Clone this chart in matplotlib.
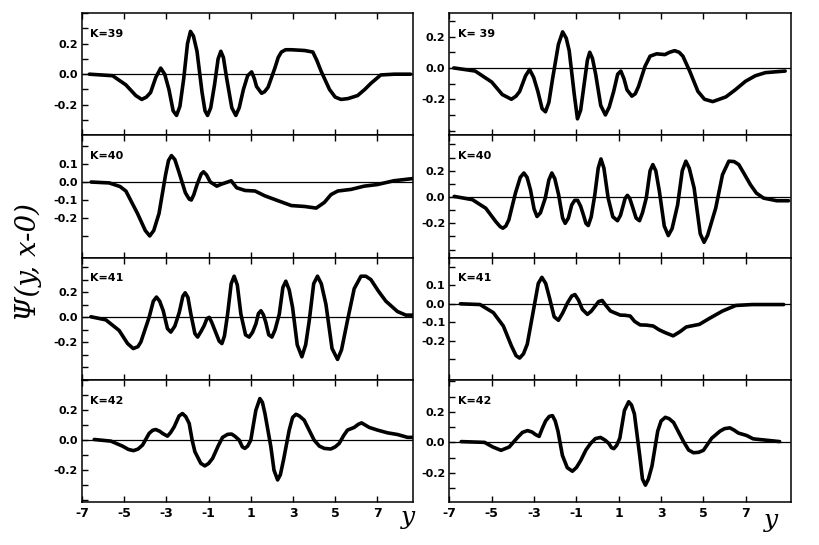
import numpy as np
import matplotlib
matplotlib.use("Agg")
import matplotlib.pyplot as plt
from matplotlib.ticker import FixedLocator

# --- K=39, left
k39a_x = [-6.65, -5.55, -4.92, -4.45, -4.17, -3.95, -3.75, -3.5, -3.27, -3.08, -2.88, -2.68, -2.52, -2.36,
          -2.18, -2.0, -1.86, -1.72, -1.55, -1.31, -1.17, -1.05, -0.9, -0.72, -0.55, -0.42, -0.3, -0.14,
          0.1, 0.29, 0.45, 0.65, 0.85, 1.04, 1.17, 1.27, 1.51, 1.65, 1.82, 2.14, 2.3, 2.45, 2.65, 2.92,
          3.55, 3.94, 4.13, 4.33, 4.73, 5.0, 5.27, 5.6, 6.06, 6.4, 6.69, 7.16, 7.8, 8.57]
k39a_v = [0.0, -0.01, -0.07, -0.14, -0.165, -0.15, -0.12, -0.02, 0.04, 0.0, -0.10, -0.24, -0.27, -0.21,
          -0.03, 0.2, 0.28, 0.25, 0.15, -0.12, -0.24, -0.27, -0.22, -0.07, 0.1, 0.15, 0.11, -0.03,
          -0.22, -0.27, -0.22, -0.10, -0.01, 0.015, -0.03, -0.08, -0.125, -0.115, -0.085, 0.04, 0.11, 0.145, 0.16, 0.16,
          0.155, 0.145, 0.09, 0.02, -0.10, -0.15, -0.165, -0.16, -0.14, -0.1, -0.06, -0.005, 0.0, 0.0]
# --- K=39, right
k39b_x = [-6.79, -5.78, -5.0, -4.5, -4.07, -3.85, -3.68, -3.4, -3.21, -3.02, -2.82, -2.62, -2.46, -2.3,
          -2.12, -1.85, -1.65, -1.48, -1.34, -1.1, -0.95, -0.8, -0.64, -0.48, -0.37, -0.24, -0.09,
          0.15, 0.37, 0.55, 0.76, 0.95, 1.10, 1.25, 1.39, 1.62, 1.78, 1.93, 2.24, 2.48, 2.79, 3.18,
          3.4, 3.64, 3.85, 4.03, 4.35, 4.74, 5.05, 5.44, 6.06, 6.5, 6.99, 7.45, 7.93, 8.86]
k39b_v = [0.0, -0.02, -0.09, -0.17, -0.20, -0.18, -0.15, -0.05, -0.01, -0.06, -0.15, -0.26, -0.28, -0.22,
          -0.065, 0.15, 0.23, 0.19, 0.11, -0.17, -0.325, -0.27, -0.11, 0.05, 0.10, 0.06, -0.04,
          -0.24, -0.30, -0.25, -0.15, -0.04, -0.02, -0.07, -0.14, -0.18, -0.165, -0.12, 0.01, 0.075, 0.09, 0.085,
          0.1, 0.11, 0.1, 0.075, -0.02, -0.15, -0.2, -0.215, -0.185, -0.14, -0.085, -0.05, -0.03, -0.02]
# --- K=40, left
k40a_x = [-6.57, -5.71, -5.2, -4.92, -4.37, -4.0, -3.79, -3.6, -3.35, -3.04, -2.9, -2.76, -2.6, -2.41,
          -2.1, -1.92, -1.82, -1.7, -1.55, -1.35, -1.24, -1.1, -0.92, -0.61, -0.4, -0.22, 0.07, 0.33,
          0.73, 1.2, 1.67, 2.29, 2.92, 3.55, 4.1, 4.49, 4.8, 5.12, 5.75, 6.37, 7.0, 7.78, 8.73]
k40a_v = [0.0, -0.005, -0.025, -0.05, -0.175, -0.27, -0.30, -0.27, -0.175, 0.04, 0.12, 0.147, 0.125, 0.057,
          -0.06, -0.095, -0.10, -0.07, -0.015, 0.045, 0.057, 0.04, 0.0, -0.023, -0.012, -0.005, 0.007, -0.032,
          -0.047, -0.05, -0.077, -0.104, -0.131, -0.136, -0.145, -0.113, -0.07, -0.05, -0.041, -0.023, -0.014, 0.007, 0.02]
# --- K=40, right
k40b_x = [-6.77, -5.91, -5.28, -4.81, -4.6, -4.47, -4.33, -4.19, -3.88, -3.65, -3.48, -3.33, -3.17, -3.0,
          -2.86, -2.7, -2.47, -2.3, -2.16, -2.02, -1.84, -1.65, -1.53, -1.38, -1.22, -1.08, -0.94, -0.8,
          -0.67, -0.55, -0.44, -0.3, -0.13, 0.03, 0.16, 0.3, 0.5, 0.72, 0.94, 1.08, 1.2, 1.3, 1.41,
          1.52, 1.67, 1.82, 1.98, 2.12, 2.3, 2.48, 2.61, 2.75, 2.92, 3.15, 3.34, 3.52, 3.78, 4.0,
          4.17, 4.33, 4.56, 4.85, 5.03, 5.2, 5.58, 5.9, 6.2, 6.45, 6.67, 6.95, 7.22, 7.5, 7.84,
          8.47, 9.02]
k40b_v = [0.005, -0.02, -0.085, -0.186, -0.225, -0.237, -0.22, -0.173, 0.03, 0.15, 0.183, 0.15, 0.056, -0.09,
          -0.148, -0.12, -0.008, 0.13, 0.183, 0.14, 0.018, -0.16, -0.20, -0.16, -0.06, -0.025, -0.025, -0.07,
          -0.135, -0.2, -0.217, -0.15, 0.018, 0.22, 0.29, 0.22, -0.008, -0.15, -0.18, -0.14, -0.07, -0.01, 0.013,
          -0.01, -0.084, -0.16, -0.18, -0.12, -0.008, 0.2, 0.247, 0.2, 0.043, -0.22, -0.293, -0.24, -0.06, 0.2,
          0.273, 0.22, 0.069, -0.28, -0.344, -0.29, -0.084, 0.17, 0.273, 0.27, 0.247, 0.17, 0.094, 0.03, -0.008,
          -0.028, -0.028]
# --- K=41, left
k41a_x = [-6.58, -5.87, -5.24, -4.84, -4.57, -4.35, -4.21, -3.82, -3.62, -3.47, -3.32, -3.15, -2.95, -2.79,
          -2.6, -2.39, -2.22, -2.11, -1.98, -1.84, -1.65, -1.52, -1.35, -1.21, -1.08, -0.97, -0.85, -0.73,
          -0.5, -0.37, -0.25, -0.1, 0.07, 0.21, 0.36, 0.53, 0.75, 0.92, 1.08, 1.24, 1.36, 1.48, 1.6,
          1.71, 1.85, 2.0, 2.15, 2.35, 2.52, 2.66, 2.82, 2.98, 3.2, 3.42, 3.6, 3.77, 3.98, 4.16,
          4.34, 4.56, 4.85, 5.11, 5.3, 5.58, 5.9, 6.22, 6.45, 6.69, 7.05, 7.4, 7.95, 8.35, 8.74]
k41a_v = [0.005, -0.02, -0.105, -0.21, -0.25, -0.235, -0.197, 0.0, 0.13, 0.163, 0.13, 0.053, -0.09, -0.118,
          -0.07, 0.04, 0.17, 0.197, 0.16, 0.026, -0.13, -0.158, -0.11, -0.066, -0.01, 0.0, -0.04, -0.092,
          -0.19, -0.21, -0.15, 0.026, 0.27, 0.33, 0.26, 0.026, -0.14, -0.158, -0.12, -0.053, 0.03, 0.053, 0.02,
          -0.04, -0.14, -0.158, -0.1, 0.026, 0.24, 0.29, 0.22, 0.079, -0.22, -0.316, -0.22, -0.026, 0.27, 0.33,
          0.27, 0.105, -0.25, -0.337, -0.26, -0.026, 0.23, 0.33, 0.33, 0.303, 0.21, 0.13, 0.047, 0.018, 0.018]
# --- K=41, right
k41b_x = [-6.48, -5.55, -4.92, -4.45, -4.07, -3.85, -3.68, -3.5, -3.32, -2.98, -2.8, -2.63, -2.45, -2.27,
          -2.05, -1.85, -1.65, -1.42, -1.22, -1.07, -0.9, -0.72, -0.48, -0.3, -0.17, 0.05, 0.22, 0.4,
          0.61, 1.07, 1.3, 1.54, 1.75, 2.01, 2.3, 2.63, 2.9, 3.18, 3.57, 3.9, 4.19, 4.5, 4.81,
          5.28, 5.9, 6.53, 7.31, 8.79]
k41b_v = [0.0, -0.004, -0.048, -0.12, -0.227, -0.28, -0.293, -0.27, -0.218, -0.004, 0.11, 0.143, 0.11, 0.032,
          -0.07, -0.089, -0.05, 0.005, 0.042, 0.05, 0.02, -0.03, -0.057, -0.04, -0.021, 0.012, 0.018, -0.01,
          -0.039, -0.061, -0.062, -0.066, -0.095, -0.114, -0.115, -0.12, -0.14, -0.155, -0.173, -0.15, -0.125, -0.118, -0.111,
          -0.079, -0.039, -0.009, -0.004, -0.004]
# --- K=42, left
k42a_x = [-6.42, -5.63, -5.08, -4.8, -4.56, -4.35, -4.13, -3.82, -3.65, -3.5, -3.3, -3.18, -2.95, -2.8,
          -2.63, -2.4, -2.24, -2.08, -1.92, -1.78, -1.65, -1.37, -1.18, -1.0, -0.81, -0.55, -0.34, -0.1,
          0.09, 0.25, 0.45, 0.6, 0.72, 0.85, 1.0, 1.12, 1.24, 1.43, 1.55, 1.67, 1.95, 2.1, 2.27,
          2.4, 2.55, 2.82, 2.98, 3.14, 3.3, 3.53, 3.75, 4.0, 4.25, 4.48, 4.79, 5.0, 5.19, 5.4,
          5.58, 5.9, 6.1, 6.25, 6.42, 6.61, 7.01, 7.48, 7.95, 8.43, 8.71]
k42a_v = [0.004, -0.007, -0.04, -0.062, -0.07, -0.06, -0.033, 0.044, 0.065, 0.07, 0.057, 0.044, 0.026, 0.05,
          0.088, 0.16, 0.176, 0.155, 0.11, 0.0, -0.077, -0.154, -0.171, -0.155, -0.121, -0.04, 0.018, 0.038,
          0.04, 0.025, 0.0, -0.045, -0.055, -0.04, 0.0, 0.1, 0.198, 0.275, 0.25, 0.176, -0.044, -0.2, -0.264,
          -0.23, -0.132, 0.066, 0.15, 0.171, 0.16, 0.132, 0.07, 0.0, -0.04, -0.055, -0.059, -0.045, -0.022, 0.03,
          0.066, 0.084, 0.105, 0.114, 0.1, 0.084, 0.066, 0.048, 0.037, 0.018, 0.018]
# --- K=42, right
k42b_x = [-6.44, -5.34, -4.95, -4.56, -4.17, -3.78, -3.55, -3.31, -3.1, -2.92, -2.76, -2.6, -2.45, -2.28,
          -2.13, -2.0, -1.87, -1.66, -1.43, -1.19, -1.0, -0.8, -0.55, -0.33, -0.1, 0.14, 0.35, 0.53,
          0.66, 0.77, 0.9, 1.05, 1.27, 1.47, 1.6, 1.74, 1.99, 2.12, 2.26, 2.4, 2.57, 2.84, 3.0,
          3.2, 3.38, 3.59, 4.06, 4.3, 4.53, 4.78, 5.0, 5.39, 5.78, 6.0, 6.25, 6.45, 6.65, 7.04,
          7.35, 7.98, 8.6]
k42b_v = [0.005, 0.0, -0.03, -0.052, -0.03, 0.032, 0.065, 0.077, 0.068, 0.05, 0.039, 0.095, 0.141, 0.17,
          0.175, 0.14, 0.073, -0.086, -0.166, -0.189, -0.165, -0.12, -0.05, -0.007, 0.025, 0.032, 0.015, -0.007,
          -0.035, -0.041, -0.02, 0.027, 0.209, 0.266, 0.245, 0.186, -0.086, -0.24, -0.28, -0.24, -0.155, 0.073, 0.14,
          0.164, 0.155, 0.13, 0.005, -0.05, -0.068, -0.065, -0.052, 0.027, 0.073, 0.09, 0.095, 0.08, 0.061, 0.045,
          0.023, 0.014, 0.005]

labels_left = ["K=39", "K=40", "K=41", "K=42"]
labels_right = ["K= 39", "K=40", "K=41", "K=42"]
xticks = [-7, -5, -3, -1, 1, 3, 5, 7]

curves_left = [(k39a_x, k39a_v), (k40a_x, k40a_v), (k41a_x, k41a_v), (k42a_x, k42a_v)]
curves_right = [(k39b_x, k39b_v), (k40b_x, k40b_v), (k41b_x, k41b_v), (k42b_x, k42b_v)]

# y limits for each panel, and which ones have 0.1-step labels
ylims_left = [(-0.40, 0.40), (-0.42, 0.26), (-0.50, 0.48), (-0.41, 0.40)]
ylims_right = [(-0.43, 0.35), (-0.46, 0.47), (-0.41, 0.25), (-0.39, 0.41)]
fine_left = [False, True, False, False]
fine_right = [False, False, True, False]

fig = plt.figure(figsize=(8.2, 5.45), dpi=100)

top, bottom = 0.976, 0.079
h = (top - bottom) / 4
cols = [(0.100, 0.404, curves_left, ylims_left, fine_left, labels_left, (-7, 8.7)),
        (0.548, 0.417, curves_right, ylims_right, fine_right, labels_right, (-7, 9.15))]

for left, width, curves, ylims, fine, labels, xl in cols:
    for i in range(4):
        ax = fig.add_axes([left, top - (i + 1) * h, width, h])
        x, v = curves[i]
        ax.plot(x, v, color="black", lw=2.6, solid_joinstyle="round", solid_capstyle="round")
        ax.axhline(0, color="black", lw=0.9)
        ax.set_xlim(*xl)
        ax.set_ylim(*ylims[i])
        if fine[i]:
            major = [-0.2, -0.1, 0.0, 0.1]
            minor = [-0.3, 0.2]
            ylabs = ["-0.2", "-0.1", "0.0", "0.1"]
        else:
            major = [-0.2, 0.0, 0.2]
            minor = [-0.4, -0.3, -0.1, 0.1, 0.3, 0.4]
            ylabs = ["-0.2", "0.0", "0.2"]
        ax.yaxis.set_major_locator(FixedLocator(major))
        ax.yaxis.set_minor_locator(FixedLocator(minor))
        ax.set_yticklabels(ylabs, fontsize=8, fontweight="bold")
        ax.set_xticks(xticks)
        if i == 3:
            ax.set_xticklabels([str(t) for t in xticks], fontsize=9, fontweight="bold")
        else:
            ax.set_xticklabels([])
        ax.tick_params(axis="both", which="both", direction="in", top=True, length=4, width=1)
        ax.tick_params(axis="y", which="both", pad=3)
        for s in ax.spines.values():
            s.set_linewidth(1.1)
        ax.text(0.025, 0.83, labels[i], transform=ax.transAxes, fontsize=8,
                fontweight="bold", va="center", ha="left")

fig.text(0.034, 0.52, "Ψ(y, x-0)", rotation=90, fontsize=20, style="italic",
         family="DejaVu Serif", ha="center", va="center")
fig.text(0.497, 0.05, "y", fontsize=18, style="italic", family="DejaVu Serif",
         ha="center", va="center")
fig.text(0.94, 0.045, "y", fontsize=18, style="italic", family="DejaVu Serif",
         ha="center", va="center")

fig.savefig("out.png", dpi=100)
